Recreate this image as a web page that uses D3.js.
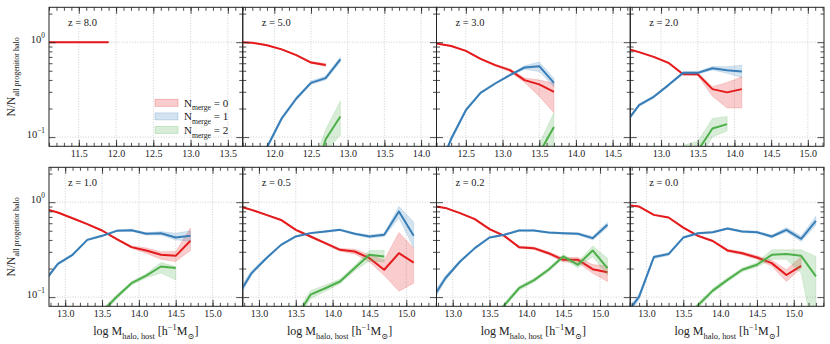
<!DOCTYPE html>
<html>
<head>
<meta charset="utf-8">
<script src="https://cdn.jsdelivr.net/npm/d3@7"></script>
<style>
  body { margin: 0; background: #fff; }
  svg text { font-family: "Liberation Serif", "DejaVu Serif", serif; fill: #222; }
</style>
</head>
<body>
<svg id="chart" width="830" height="344"></svg>
<script>
// redshift of each panel, left to right, top to bottom
const redshifts = ['8.0', '5.0', '3.0', '2.0', '1.0', '0.5', '0.2', '0.0'];

// x range (log host halo mass) of each panel
const massLimits = [
  [11.1, 13.7], [11.57, 14.21], [12.1, 14.74], [12.58, 15.22],
  [12.78, 15.41], [12.78, 15.41], [12.78, 15.41], [12.78, 15.41]
];
const massTicks = [
  [11.5, 12.0, 12.5, 13.0, 13.5], [12.0, 12.5, 13.0, 13.5, 14.0],
  [12.5, 13.0, 13.5, 14.0, 14.5], [13.0, 13.5, 14.0, 14.5, 15.0],
  [13.0, 13.5, 14.0, 14.5, 15.0], [13.0, 13.5, 14.0, 14.5, 15.0],
  [13.0, 13.5, 14.0, 14.5, 15.0], [13.0, 13.5, 14.0, 14.5, 15.0]
];
const fracLimits = [0.08, 2.33];
const fracTicks = [0.1, 1];
const fracMinorTicks = [0.2, 0.3, 0.4, 0.5, 0.6, 0.7, 0.8, 0.9, 2];
const fracTickLabels = [['10', '\u22121'], ['10', '0']];

const mergeLabels = ['0', '1', '2'];
const mergeColors = ['#e41a1c', '#377eb8', '#4daf4a'];

// rows are [log M_host, fraction, lower, upper], one list per panel
const nMerge0 = [
  [[11.1, 1, 0.99, 1.01], [11.3, 1, 0.99, 1.01], [11.5, 1, 0.99, 1.01], [11.7, 1, 0.99, 1.01], [11.9, 1, 0.99, 1.01]],
  [[11.5, 1.0, 0.99, 1.01], [11.7, 0.985, 0.975, 0.995], [11.9, 0.93, 0.92, 0.94], [12.1, 0.84, 0.83, 0.85], [12.3, 0.73, 0.72, 0.74],
   [12.5, 0.61, 0.60, 0.625], [12.7, 0.575, 0.555, 0.595]],
  [[12.1, 0.97, 0.96, 0.98], [12.3, 0.91, 0.90, 0.92], [12.5, 0.81, 0.80, 0.82], [12.7, 0.667, 0.655, 0.68], [12.9, 0.573, 0.56, 0.585],
   [13.1, 0.507, 0.49, 0.525], [13.3, 0.398, 0.375, 0.42], [13.5, 0.359, 0.27, 0.40], [13.7, 0.30, 0.18, 0.37]],
  [[12.5, 0.87, 0.86, 0.88], [12.7, 0.785, 0.775, 0.795], [12.9, 0.70, 0.69, 0.71], [13.1, 0.606, 0.595, 0.62], [13.3, 0.46, 0.45, 0.47],
   [13.5, 0.46, 0.445, 0.475], [13.7, 0.32, 0.27, 0.34], [13.9, 0.296, 0.203, 0.376], [14.1, 0.32, 0.203, 0.431]],
  [[12.7, 0.86, 0.85, 0.87], [12.9, 0.778, 0.77, 0.786], [13.1, 0.678, 0.67, 0.686], [13.3, 0.587, 0.58, 0.595], [13.5, 0.503, 0.495, 0.511],
   [13.7, 0.408, 0.40, 0.416], [13.9, 0.336, 0.328, 0.345], [14.1, 0.31, 0.29, 0.33], [14.3, 0.279, 0.25, 0.30], [14.5, 0.272, 0.237, 0.302],
   [14.7, 0.392, 0.31, 0.533]],
  [[12.7, 0.92, 0.91, 0.93], [12.9, 0.83, 0.82, 0.84], [13.1, 0.735, 0.725, 0.745], [13.3, 0.65, 0.64, 0.66], [13.5, 0.511, 0.50, 0.522],
   [13.7, 0.435, 0.425, 0.445], [13.9, 0.37, 0.36, 0.38], [14.1, 0.315, 0.305, 0.325], [14.3, 0.302, 0.285, 0.32], [14.5, 0.257, 0.235, 0.28],
   [14.7, 0.194, 0.17, 0.245], [14.9, 0.29, 0.115, 0.48], [15.1, 0.231, 0.14, 0.328]],
  [[12.7, 0.92, 0.91, 0.93], [12.9, 0.87, 0.86, 0.88], [13.1, 0.766, 0.756, 0.776], [13.3, 0.662, 0.652, 0.672], [13.5, 0.52, 0.51, 0.53],
   [13.7, 0.442, 0.433, 0.451], [13.9, 0.336, 0.328, 0.344], [14.1, 0.328, 0.318, 0.338], [14.3, 0.29, 0.28, 0.30], [14.5, 0.247, 0.235, 0.26],
   [14.7, 0.247, 0.23, 0.262], [14.9, 0.197, 0.178, 0.22], [15.1, 0.183, 0.146, 0.213]],
  [[12.7, 0.94, 0.93, 0.95], [12.9, 0.90, 0.89, 0.91], [13.1, 0.735, 0.725, 0.745], [13.3, 0.689, 0.679, 0.699], [13.5, 0.54, 0.53, 0.55],
   [13.7, 0.442, 0.433, 0.451], [13.9, 0.39, 0.382, 0.398], [14.1, 0.31, 0.30, 0.32], [14.3, 0.29, 0.28, 0.30], [14.5, 0.261, 0.25, 0.272],
   [14.7, 0.228, 0.212, 0.245], [14.9, 0.171, 0.146, 0.194], [15.1, 0.213, 0.202, 0.268]]
];

const nMerge1 = [
  [],
  [[11.7, 0.035, 0.032, 0.038], [11.9, 0.078, 0.074, 0.082], [12.1, 0.157, 0.15, 0.165], [12.3, 0.255, 0.245, 0.265], [12.5, 0.373, 0.36, 0.39],
   [12.7, 0.418, 0.40, 0.44], [12.9, 0.657, 0.62, 0.70]],
  [[12.1, 0.04, 0.037, 0.043], [12.3, 0.096, 0.09, 0.10], [12.5, 0.192, 0.185, 0.20], [12.7, 0.293, 0.285, 0.30], [12.9, 0.367, 0.36, 0.375],
   [13.1, 0.45, 0.44, 0.46], [13.3, 0.541, 0.52, 0.565], [13.5, 0.559, 0.49, 0.62], [13.7, 0.373, 0.34, 0.415]],
  [[12.5, 0.135, 0.13, 0.14], [12.7, 0.217, 0.21, 0.225], [12.9, 0.266, 0.258, 0.274], [13.1, 0.353, 0.343, 0.363], [13.3, 0.475, 0.46, 0.49],
   [13.5, 0.475, 0.46, 0.49], [13.7, 0.532, 0.51, 0.555], [13.9, 0.507, 0.47, 0.55], [14.1, 0.491, 0.425, 0.573]],
  [[12.7, 0.14, 0.135, 0.145], [12.9, 0.224, 0.218, 0.23], [13.1, 0.279, 0.272, 0.286], [13.3, 0.401, 0.393, 0.41], [13.5, 0.442, 0.433, 0.451],
   [13.7, 0.499, 0.49, 0.51], [13.9, 0.507, 0.495, 0.52], [14.1, 0.464, 0.45, 0.478], [14.3, 0.47, 0.45, 0.49], [14.5, 0.424, 0.40, 0.47],
   [14.7, 0.442, 0.39, 0.50]],
  [[12.7, 0.10, 0.09, 0.11], [12.9, 0.179, 0.17, 0.19], [13.1, 0.257, 0.25, 0.265], [13.3, 0.355, 0.347, 0.363], [13.5, 0.435, 0.427, 0.443],
   [13.7, 0.472, 0.463, 0.481], [13.9, 0.49, 0.48, 0.50], [14.1, 0.511, 0.50, 0.522], [14.3, 0.464, 0.453, 0.475], [14.5, 0.435, 0.42, 0.45],
   [14.7, 0.453, 0.435, 0.47], [14.9, 0.796, 0.68, 0.90], [15.1, 0.442, 0.33, 0.62]],
  [[12.7, 0.09, 0.08, 0.10], [12.9, 0.158, 0.15, 0.167], [13.1, 0.237, 0.23, 0.244], [13.3, 0.328, 0.32, 0.336], [13.5, 0.424, 0.416, 0.432],
   [13.7, 0.453, 0.445, 0.461], [13.9, 0.503, 0.495, 0.511], [14.1, 0.503, 0.495, 0.511], [14.3, 0.479, 0.47, 0.488], [14.5, 0.47, 0.46, 0.48],
   [14.7, 0.464, 0.452, 0.476], [14.9, 0.418, 0.40, 0.437], [15.1, 0.577, 0.54, 0.615]],
  [[12.7, 0.062, 0.056, 0.068], [12.9, 0.101, 0.094, 0.108], [13.1, 0.264, 0.255, 0.273], [13.3, 0.284, 0.274, 0.294], [13.5, 0.424, 0.414, 0.434],
   [13.7, 0.47, 0.46, 0.48], [13.9, 0.483, 0.473, 0.493], [14.1, 0.527, 0.515, 0.539], [14.3, 0.49, 0.478, 0.502], [14.5, 0.483, 0.47, 0.496],
   [14.7, 0.435, 0.42, 0.45], [14.9, 0.511, 0.485, 0.54], [15.1, 0.411, 0.385, 0.44], [15.3, 0.636, 0.57, 0.71]]
];

const nMerge2 = [
  [],
  [[12.5, 0.03, 0.02, 0.045], [12.7, 0.095, 0.07, 0.12], [12.9, 0.165, 0.105, 0.24]],
  [[13.3, 0.03, 0.02, 0.05], [13.5, 0.068, 0.05, 0.085], [13.7, 0.128, 0.08, 0.18]],
  [[13.3, 0.05, 0.035, 0.082], [13.5, 0.072, 0.058, 0.09], [13.7, 0.123, 0.10, 0.157], [13.9, 0.137, 0.116, 0.165]],
  [[13.5, 0.07, 0.065, 0.075], [13.7, 0.101, 0.096, 0.106], [13.9, 0.14, 0.134, 0.146], [14.1, 0.168, 0.16, 0.176], [14.3, 0.21, 0.179, 0.231],
   [14.5, 0.202, 0.152, 0.21]],
  [[13.5, 0.06, 0.055, 0.066], [13.7, 0.106, 0.096, 0.117], [13.9, 0.124, 0.115, 0.134], [14.1, 0.146, 0.138, 0.155], [14.3, 0.202, 0.19, 0.215],
   [14.5, 0.279, 0.24, 0.31], [14.7, 0.268, 0.235, 0.31]],
  [[13.5, 0.05, 0.046, 0.054], [13.7, 0.082, 0.078, 0.087], [13.9, 0.124, 0.118, 0.13], [14.1, 0.15, 0.143, 0.157], [14.3, 0.194, 0.185, 0.203],
   [14.5, 0.268, 0.255, 0.28], [14.7, 0.219, 0.203, 0.235], [14.9, 0.31, 0.268, 0.346], [15.1, 0.202, 0.17, 0.257]],
  [[13.5, 0.05, 0.046, 0.054], [13.7, 0.082, 0.077, 0.087], [13.9, 0.117, 0.111, 0.123], [14.1, 0.152, 0.145, 0.16], [14.3, 0.194, 0.185, 0.203],
   [14.5, 0.219, 0.208, 0.23], [14.7, 0.279, 0.25, 0.315], [14.9, 0.284, 0.25, 0.315], [15.1, 0.272, 0.179, 0.315], [15.3, 0.165, 0.03, 0.268]]
];

const series = [nMerge0, nMerge1, nMerge2];

// layout
const left = 49, right = 824;
const rowTops = [7.3, 167.3];
const panelH = 139;
const panelW = (right - left) / 4;
const majorLen = 6.5, minorLen = 3.5;

const svg = d3.select('#chart');
svg.append('rect').attr('width', 830).attr('height', 344).attr('fill', '#fff');

// write text made of normal / sub / sup pieces
function richText(text, parts, size) {
  let shift = 0;
  parts.forEach(function(p) {
    var target = p.sub ? size * 0.32 : (p.sup ? -size * 0.42 : 0);
    text.append('tspan')
      .attr('dy', target - shift)
      .attr('font-size', (p.sub || p.sup) ? size * 0.7 : size)
      .text(p.t);
    shift = target;
  });
}

function styleAxis(g) {
  g.attr('font-family', null).attr('font-size', null);
  g.select('.domain').remove();
  g.selectAll('.tick line').attr('stroke', '#222').attr('stroke-width', 0.8);
}

redshifts.forEach(function(z, i) {
  var row = Math.floor(i / 4), col = i % 4;
  var x0 = left + col * panelW, y0 = rowTops[row];

  var x = d3.scaleLinear().domain(massLimits[i]).range([0, panelW]);
  var y = d3.scaleLog().domain(fracLimits).range([panelH, 0]);

  var g = svg.append('g').attr('transform', 'translate(' + x0 + ',' + y0 + ')');

  g.append('clipPath').attr('id', 'clip' + i)
    .append('rect').attr('width', panelW).attr('height', panelH);

  // dotted grid on major ticks
  var grid = g.append('g').attr('stroke', '#c4c4c4').attr('stroke-width', 0.8)
    .attr('stroke-dasharray', '1,1.6');
  grid.selectAll('.gx').data(massTicks[i]).enter().append('line')
    .attr('x1', function(d) { return x(d); }).attr('x2', function(d) { return x(d); })
    .attr('y1', 0).attr('y2', panelH);
  grid.selectAll('.gy').data(fracTicks).enter().append('line')
    .attr('x1', 0).attr('x2', panelW)
    .attr('y1', function(d) { return y(d); }).attr('y2', function(d) { return y(d); });

  // bands and lines
  var plot = g.append('g').attr('clip-path', 'url(#clip' + i + ')');
  var area = d3.area()
    .x(function(d) { return x(d[0]); })
    .y0(function(d) { return y(d[2]); })
    .y1(function(d) { return y(d[3]); });
  var line = d3.line()
    .x(function(d) { return x(d[0]); })
    .y(function(d) { return y(d[1]); });

  series.forEach(function(s, k) {
    var rows = s[i];
    if (!rows.length) return;
    plot.append('path').datum(rows)
      .attr('d', area)
      .attr('fill', mergeColors[k]).attr('fill-opacity', 0.22)
      .attr('stroke', mergeColors[k]).attr('stroke-opacity', 0.2).attr('stroke-width', 0.8);
    plot.append('path').datum(rows)
      .attr('d', line)
      .attr('fill', 'none')
      .attr('stroke', mergeColors[k]).attr('stroke-width', 2)
      .attr('stroke-linejoin', 'round');
  });

  // frame
  g.append('rect').attr('width', panelW).attr('height', panelH)
    .attr('fill', 'none').attr('stroke', '#222').attr('stroke-width', 1);

  // ticks, all pointing inward
  var d = massLimits[i];
  var minorX = d3.range(Math.ceil(d[0] * 10), Math.floor(d[1] * 10) + 1).map(function(v) { return v / 10; });

  g.append('g').attr('transform', 'translate(0,' + panelH + ')')
    .call(d3.axisBottom(x).tickValues(massTicks[i]).tickSize(-majorLen).tickPadding(4).tickFormat(d3.format('.1f')))
    .call(styleAxis)
    .selectAll('text').attr('font-size', 10);
  g.append('g').attr('transform', 'translate(0,' + panelH + ')')
    .call(d3.axisBottom(x).tickValues(minorX).tickSize(-minorLen).tickFormat(''))
    .call(styleAxis);
  g.append('g')
    .call(d3.axisTop(x).tickValues(massTicks[i]).tickSize(-majorLen).tickFormat(''))
    .call(styleAxis);
  g.append('g')
    .call(d3.axisTop(x).tickValues(minorX).tickSize(-minorLen).tickFormat(''))
    .call(styleAxis);

  var yLeft = g.append('g')
    .call(d3.axisLeft(y).tickValues(fracTicks).tickSize(-majorLen).tickPadding(4).tickFormat(''))
    .call(styleAxis);
  if (col === 0) {
    yLeft.selectAll('.tick text').each(function(v, j) {
      var t = d3.select(this).attr('font-size', 10);
      richText(t, [{ t: fracTickLabels[j][0] }, { t: fracTickLabels[j][1], sup: true }], 10.5);
    });
  }
  g.append('g')
    .call(d3.axisLeft(y).tickValues(fracMinorTicks).tickSize(-minorLen).tickFormat(''))
    .call(styleAxis);
  g.append('g').attr('transform', 'translate(' + panelW + ',0)')
    .call(d3.axisRight(y).tickValues(fracTicks).tickSize(-majorLen).tickFormat(''))
    .call(styleAxis);
  g.append('g').attr('transform', 'translate(' + panelW + ',0)')
    .call(d3.axisRight(y).tickValues(fracMinorTicks).tickSize(-minorLen).tickFormat(''))
    .call(styleAxis);

  // redshift label
  g.append('text').attr('x', 19).attr('y', 18.5).attr('font-size', 10.5)
    .text('z = ' + z);

  // x title on the bottom row
  if (row === 1) {
    var tx = g.append('text').attr('x', panelW / 2).attr('y', panelH + 29)
      .attr('text-anchor', 'middle');
    richText(tx, [
      { t: 'log M' }, { t: 'halo, host', sub: true }, { t: ' [h' }, { t: '\u22121', sup: true },
      { t: 'M' }, { t: '\u2299', sub: true }, { t: ']' }
    ], 12);
  }

  // y title on the first column
  if (col === 0) {
    var ty = svg.append('text')
      .attr('transform', 'translate(15,' + (y0 + panelH / 2) + ') rotate(-90)')
      .attr('text-anchor', 'middle');
    richText(ty, [{ t: 'N/N' }, { t: 'all progenitor halo', sub: true }], 11.5);
  }

  // legend in the first panel
  if (i === 0) {
    var lg = g.append('g');
    mergeLabels.forEach(function(lab, k) {
      var ly = 92 + k * 13.6;
      lg.append('rect').attr('x', 106).attr('y', ly).attr('width', 23).attr('height', 7)
        .attr('fill', mergeColors[k]).attr('fill-opacity', 0.22)
        .attr('stroke', mergeColors[k]).attr('stroke-opacity', 0.3).attr('stroke-width', 0.8);
      var lt = lg.append('text').attr('x', 135).attr('y', ly + 7.5);
      richText(lt, [{ t: 'N' }, { t: 'merge', sub: true }, { t: ' = ' + lab }], 11);
    });
  }
});
</script>
</body>
</html>
